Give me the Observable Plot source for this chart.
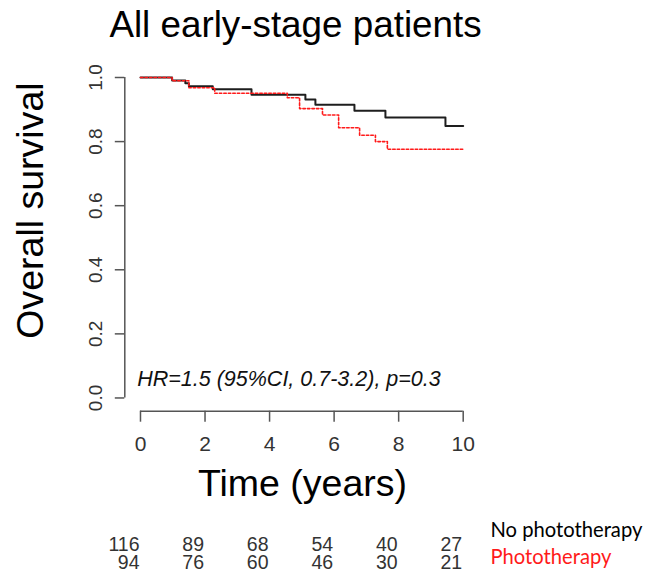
<!DOCTYPE html>
<html>
<head>
<meta charset="utf-8">
<script src="https://cdn.jsdelivr.net/npm/d3@7"></script>
<script src="https://cdn.jsdelivr.net/npm/@observablehq/plot@0.6"></script>
<style>
  html, body { margin: 0; padding: 0; background: white; }
</style>
</head>
<body>
<div id="chart"></div>
<script>
const title = "All early-stage patients";
const yLabel = "Overall survival";
const xLabel = "Time (years)";
const hrText = "HR=1.5 (95%CI, 0.7-3.2), p=0.3";
const groups = ["No phototherapy", "Phototherapy"];
const groupColors = ["#1e1e1e", "#ff1a1a"];

const xTicks = [0, 2, 4, 6, 8, 10];
const yTicks = [0, 0.2, 0.4, 0.6, 0.8, 1.0];

const atRiskNo = [116, 89, 68, 54, 40, 27];
const atRiskPhoto = [94, 76, 60, 46, 30, 21];

// Kaplan-Meier step points (time in years, survival probability)
const noTime = [0, 0.98, 1.39, 1.50, 2.24, 3.44, 5.11, 5.42, 6.63, 7.59, 9.45, 10];
const noSurv = [1.0, 0.991, 0.982, 0.973, 0.963, 0.946, 0.931, 0.915, 0.896, 0.875, 0.849, 0.849];
const photoTime = [0, 0.98, 1.50, 2.30, 4.55, 4.93, 5.64, 6.14, 6.79, 7.28, 7.65, 10];
const photoSurv = [1.0, 0.990, 0.968, 0.951, 0.937, 0.903, 0.883, 0.843, 0.820, 0.800, 0.776, 0.776];

// R-style axis offsets (domain extends beyond data like R's xaxs/yaxs)
const xDomain = [-0.486, 10];
const yDomain = [-0.0413, 1];

const rowsNo = noTime.map((t, i) => ({time: t, surv: noSurv[i], group: groups[0]}));
const rowsPhoto = photoTime.map((t, i) => ({time: t, surv: photoSurv[i], group: groups[1]}));

const axisColor = "#555";
const labelColor = "#333";
const fmt = d3.format(".1f");

const chart = Plot.plot({
  width: 650,
  height: 573,
  marginLeft: 124.3,
  marginRight: 187.3,
  marginTop: 77,
  marginBottom: 162.3,
  x: {domain: xDomain, axis: null},
  y: {domain: yDomain, axis: null},
  style: {fontFamily: "'Liberation Sans', Arial, sans-serif", background: "white", color: "black"},
  marks: [
    // axes lines and ticks (R style)
    Plot.ruleX([xDomain[0]], {y1: yTicks[0], y2: yTicks[yTicks.length - 1], stroke: axisColor, strokeWidth: 1.5}),
    Plot.axisY({ticks: yTicks, tickSize: 9.5, fill: "none", stroke: axisColor, strokeWidth: 1.5}),
    Plot.ruleY([yDomain[0]], {x1: xTicks[0], x2: xTicks[xTicks.length - 1], stroke: axisColor, strokeWidth: 1.5}),
    Plot.axisX({ticks: xTicks, tickSize: 11, fill: "none", stroke: axisColor, strokeWidth: 1.5}),
    // tick labels
    Plot.text(yTicks, {y: d => d, text: d => fmt(d), frameAnchor: "left", dx: -29.3, rotate: -90,
      textAnchor: "middle", lineAnchor: "middle", fontSize: 19, fill: labelColor}),
    Plot.text(xTicks, {x: d => d, text: d => String(d), frameAnchor: "bottom", dy: 39.3,
      lineAnchor: "bottom", fontSize: 21, fill: labelColor}),
    // survival curves
    Plot.line(rowsNo, {x: "time", y: "surv", curve: "step-after", stroke: groupColors[0], strokeWidth: 2}),
    Plot.line(rowsPhoto, {x: "time", y: "surv", curve: "step-after", stroke: groupColors[1], strokeWidth: 1.6, strokeDasharray: "2.5,2"}),
    // titles
    Plot.text([title], {text: d => d, frameAnchor: "top", dx: 1.5, dy: -40.3, textAnchor: "middle", lineAnchor: "bottom", fontSize: 36.8, fill: "black"}),
    Plot.text([yLabel], {text: d => d, frameAnchor: "left", dx: -82.3, dy: -33.8, rotate: -90, textAnchor: "middle", lineAnchor: "bottom", fontSize: 37.5, fill: "black"}),
    Plot.text([xLabel], {text: d => d, frameAnchor: "bottom", dx: 8.5, dy: 85, textAnchor: "middle", lineAnchor: "bottom", fontSize: 37.5, fill: "black"}),
    Plot.text([hrText], {text: d => d, frameAnchor: "bottom-left", dx: 12.4, dy: -25.7, textAnchor: "start", lineAnchor: "bottom",
      fontSize: 21.5, fontStyle: "italic", fill: "#111"}),
    // numbers at risk
    Plot.text(atRiskNo, {x: (d, i) => xTicks[i], text: d => String(d), frameAnchor: "bottom", dy: 139.3, dx: -1,
      textAnchor: "end", lineAnchor: "bottom", fontSize: 19.5, fill: labelColor}),
    Plot.text(atRiskPhoto, {x: (d, i) => xTicks[i], text: d => String(d), frameAnchor: "bottom", dy: 157.6, dx: -1,
      textAnchor: "end", lineAnchor: "bottom", fontSize: 19.5, fill: labelColor}),
    Plot.text([groups[0]], {text: d => d, frameAnchor: "bottom-right", dx: 27.3, dy: 126, textAnchor: "start", lineAnchor: "bottom",
      fontSize: 20.2, fontFamily: "Lato", fill: "black"}),
    Plot.text([groups[1]], {text: d => d, frameAnchor: "bottom-right", dx: 27.3, dy: 152.6, textAnchor: "start", lineAnchor: "bottom",
      fontSize: 20.2, fontFamily: "Lato", fill: groupColors[1]})
  ]
});
document.getElementById("chart").append(chart);
</script>
</body>
</html>
